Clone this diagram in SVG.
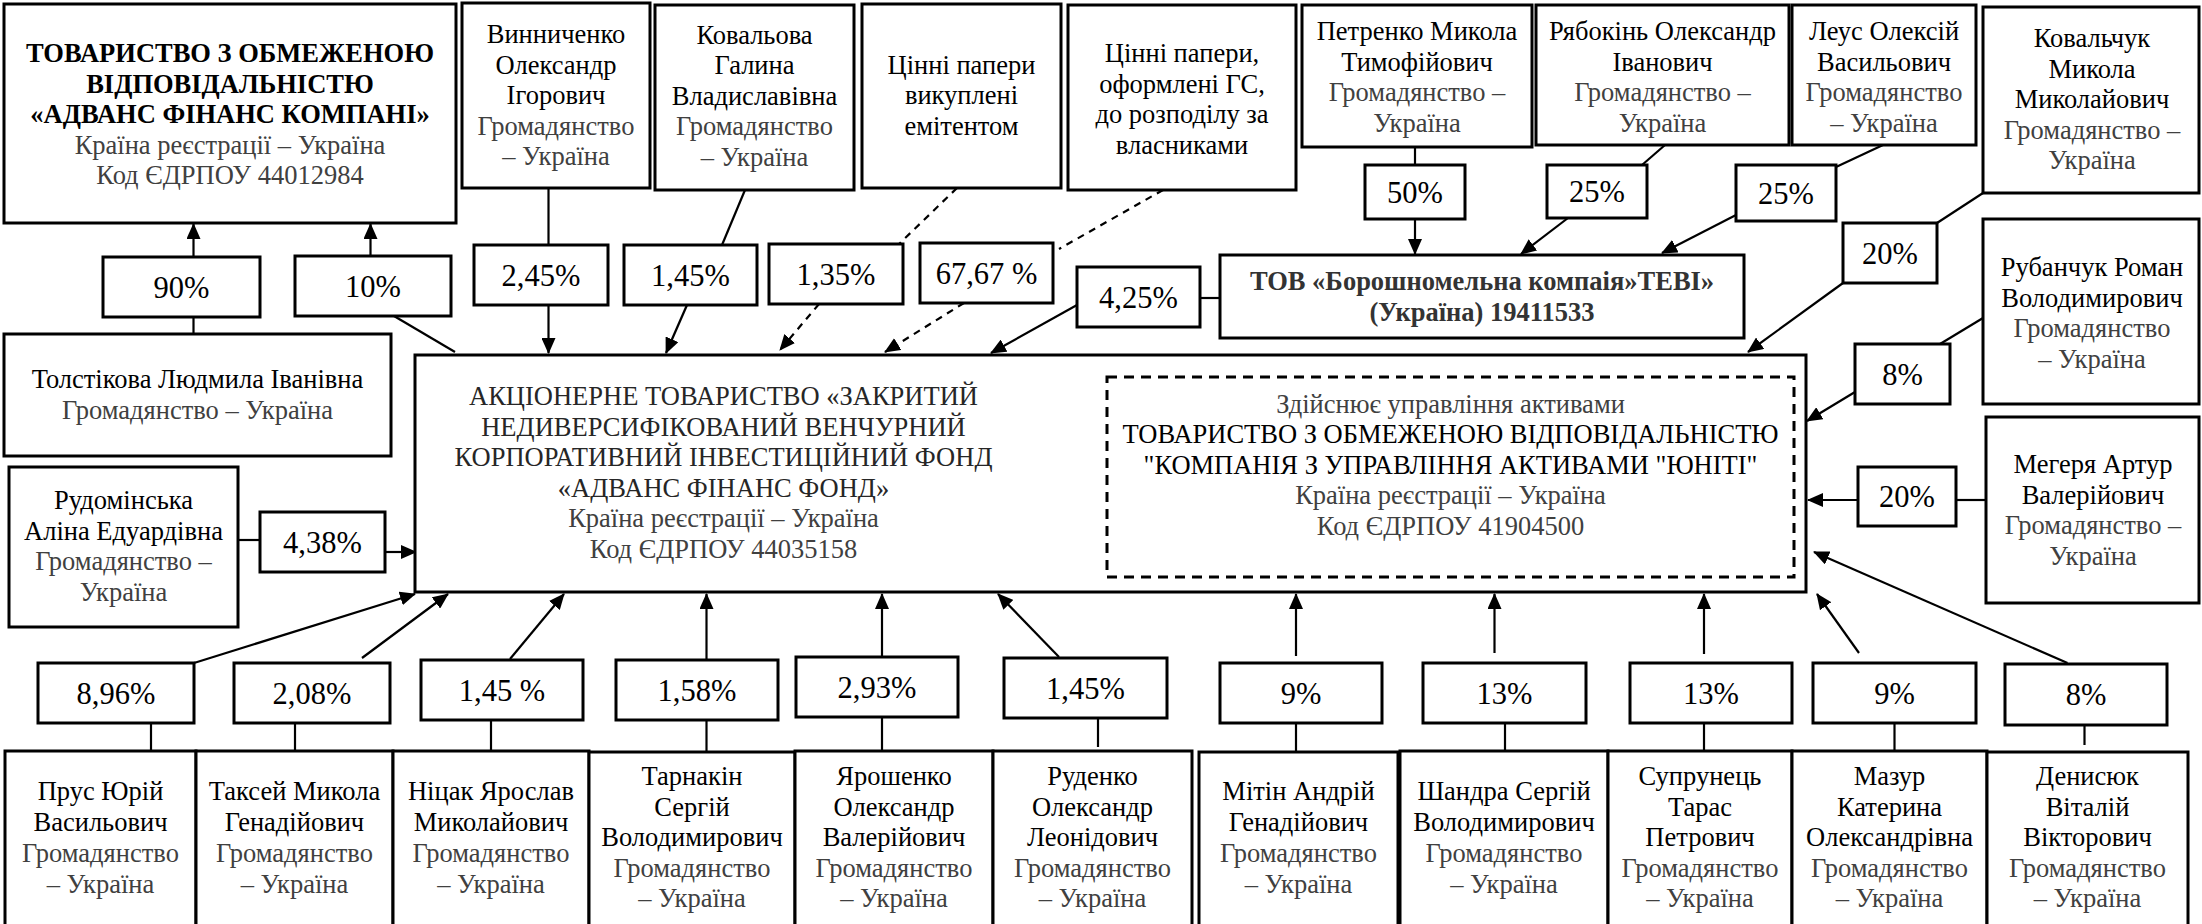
<svg xmlns="http://www.w3.org/2000/svg" width="2202" height="924" viewBox="0 0 2202 924">
<style>
.b{fill:#fff;stroke:#000;stroke-width:3}
.db{fill:none;stroke:#000;stroke-width:3;stroke-dasharray:10 7}
.t{font-family:"Liberation Serif","Times New Roman",serif;font-size:26.5px;text-anchor:middle;fill:#000}
.g{fill:#404040}
.m{fill:#262626}
.bo{font-weight:bold}
.bb{font-weight:bold;fill:#333}
.p{font-family:"Liberation Serif","Times New Roman",serif;font-size:30.5px;text-anchor:middle;fill:#000}
.c{stroke:#000;stroke-width:2.2;fill:none}
.a{marker-end:url(#ah)}
.d{stroke-dasharray:7 6}
</style>
<defs>
<marker id="ah" markerUnits="userSpaceOnUse" markerWidth="16" markerHeight="14" refX="15" refY="7" orient="auto"><path d="M0,0 L16,7 L0,14 z" fill="#000"/></marker>
</defs>
<rect width="2202" height="924" fill="#fff"/>

<g id="connectors">
<path class="c a" d="M193.5,257 V224"/>
<path class="c a" d="M370.5,256 V224"/>
<path class="c" d="M193.5,334 V317"/>
<path class="c" d="M455,352 L394,316"/>
<path class="c" d="M548.5,188 V245"/>
<path class="c a" d="M548.5,305 V353"/>
<path class="c" d="M745,190 L722,245"/>
<path class="c a" d="M687,305 L666,353"/>
<path class="c d" d="M957,188 L899,244"/>
<path class="c d a" d="M819,304 L780,350"/>
<path class="c d" d="M1163,190 L1059,249"/>
<path class="c d a" d="M964,303 L885,352"/>
<path class="c a" d="M1077,305 L991,353"/>
<path class="c" d="M1200,298 H1220"/>
<path class="c" d="M1415,147 V165"/>
<path class="c a" d="M1415,219 V254"/>
<path class="c" d="M1665,145 L1642,165"/>
<path class="c a" d="M1568,218 L1521,254"/>
<path class="c" d="M1883,145 L1836,167"/>
<path class="c a" d="M1736,215 L1662,253"/>
<path class="c" d="M1983,193 L1937,223"/>
<path class="c a" d="M1843,283 L1748,352"/>
<path class="c" d="M1983,318 L1940,344"/>
<path class="c a" d="M1855,392 L1807,421"/>
<path class="c" d="M1986,500 H1956"/>
<path class="c a" d="M1858,500 H1808"/>
<path class="c" d="M238,540 H260"/>
<path class="c a" d="M385,552 H416"/>
<path class="c d a" d="M1107,457 H1038"/>
<path class="c a" d="M194,663 L415,594"/>
<path class="c a" d="M362,658 L448,594"/>
<path class="c a" d="M510,659 L564,594"/>
<path class="c a" d="M706.5,660 V594"/>
<path class="c a" d="M882,657 V594"/>
<path class="c a" d="M1059,657 L998,594"/>
<path class="c a" d="M1296,656 V594"/>
<path class="c a" d="M1494.5,653 V594"/>
<path class="c a" d="M1704,654 V594"/>
<path class="c a" d="M1859,653 L1817,594"/>
<path class="c a" d="M2067.5,663 L1814,552"/>
<path class="c" d="M151,723 V751"/>
<path class="c" d="M295,723 V751"/>
<path class="c" d="M491,720 V751"/>
<path class="c" d="M706.5,720 V752"/>
<path class="c" d="M882,717 V751"/>
<path class="c" d="M1098,718 V747"/>
<path class="c" d="M1296,723 V751"/>
<path class="c" d="M1505,723 V751"/>
<path class="c" d="M1704,723 V756"/>
<path class="c" d="M1894.5,721 V751"/>
<path class="c" d="M2084.5,726 V745"/>
</g>

<g id="n_afk"><rect class="b" x="4" y="4" width="452" height="219"/>
<text class="t"><tspan class="bo" x="230" y="62">ТОВАРИСТВО З ОБМЕЖЕНОЮ</tspan><tspan class="bo" x="230" y="92.5">ВІДПОВІДАЛЬНІСТЮ</tspan><tspan class="bo" x="230" y="123">«АДВАНС ФІНАНС КОМПАНІ»</tspan><tspan class="g" x="230" y="153.5">Країна реєстрації – Україна</tspan><tspan class="g" x="230" y="184">Код ЄДРПОУ 44012984</tspan></text></g>

<g id="n_vynn"><rect class="b" x="462" y="3" width="188" height="185"/>
<text class="t"><tspan x="556" y="43">Винниченко</tspan><tspan x="556" y="73.5">Олександр</tspan><tspan x="556" y="104">Ігорович</tspan><tspan class="g" x="556" y="134.5">Громадянство</tspan><tspan class="g" x="556" y="165">– Україна</tspan></text></g>

<g id="n_koval"><rect class="b" x="655" y="5" width="199" height="185"/>
<text class="t"><tspan x="754.5" y="43.5">Ковальова</tspan><tspan x="754.5" y="74">Галина</tspan><tspan x="754.5" y="104.5">Владиславівна</tspan><tspan class="g" x="754.5" y="135">Громадянство</tspan><tspan class="g" x="754.5" y="165.5">– Україна</tspan></text></g>

<g id="n_cp1"><rect class="b" x="862" y="4" width="199" height="184"/>
<text class="t"><tspan x="961.5" y="73.5">Цінні папери</tspan><tspan x="961.5" y="104">викуплені</tspan><tspan x="961.5" y="134.5">емітентом</tspan></text></g>

<g id="n_cp2"><rect class="b" x="1068" y="5" width="228" height="185"/>
<text class="t"><tspan x="1182" y="62">Цінні папери,</tspan><tspan x="1182" y="92.5">оформлені ГС,</tspan><tspan x="1182" y="123">до розподілу за</tspan><tspan x="1182" y="153.5">власниками</tspan></text></g>

<g id="n_petr"><rect class="b" x="1302" y="5" width="230" height="142"/>
<text class="t"><tspan x="1417" y="40">Петренко Микола</tspan><tspan x="1417" y="70.5">Тимофійович</tspan><tspan class="g" x="1417" y="101">Громадянство –</tspan><tspan class="g" x="1417" y="131.5">Україна</tspan></text></g>

<g id="n_ryab"><rect class="b" x="1536" y="5" width="253" height="140"/>
<text class="t"><tspan x="1662.5" y="40">Рябокінь Олександр</tspan><tspan x="1662.5" y="70.5">Іванович</tspan><tspan class="g" x="1662.5" y="101">Громадянство –</tspan><tspan class="g" x="1662.5" y="131.5">Україна</tspan></text></g>

<g id="n_leus"><rect class="b" x="1792" y="5" width="184" height="140"/>
<text class="t"><tspan x="1884" y="40">Леус Олексій</tspan><tspan x="1884" y="70.5">Васильович</tspan><tspan class="g" x="1884" y="101">Громадянство</tspan><tspan class="g" x="1884" y="131.5">– Україна</tspan></text></g>

<g id="n_kovch"><rect class="b" x="1983" y="7" width="216" height="186"/>
<text class="t"><tspan x="2092" y="47">Ковальчук</tspan><tspan x="2092" y="77.5">Микола</tspan><tspan x="2092" y="108">Миколайович</tspan><tspan class="g" x="2092" y="138.5">Громадянство –</tspan><tspan class="g" x="2092" y="169">Україна</tspan></text></g>

<g id="n_rub"><rect class="b" x="1983" y="219" width="216" height="185"/>
<text class="t"><tspan x="2092" y="276">Рубанчук Роман</tspan><tspan x="2092" y="306.5">Володимирович</tspan><tspan class="g" x="2092" y="337">Громадянство</tspan><tspan class="g" x="2092" y="367.5">– Україна</tspan></text></g>

<g id="n_meg"><rect class="b" x="1986" y="417" width="213" height="186"/>
<text class="t"><tspan x="2093" y="473">Мегеря Артур</tspan><tspan x="2093" y="503.5">Валерійович</tspan><tspan class="g" x="2093" y="534">Громадянство –</tspan><tspan class="g" x="2093" y="564.5">Україна</tspan></text></g>

<g id="n_tol"><rect class="b" x="4" y="334" width="387" height="122"/>
<text class="t"><tspan x="197.5" y="388">Толстікова Людмила Іванівна</tspan><tspan class="g" x="197.5" y="419">Громадянство – Україна</tspan></text></g>

<g id="n_rud"><rect class="b" x="9" y="467" width="229" height="160"/>
<text class="t"><tspan x="123.5" y="509">Рудомінська</tspan><tspan x="123.5" y="539.5">Аліна Едуардівна</tspan><tspan class="g" x="123.5" y="570">Громадянство –</tspan><tspan class="g" x="123.5" y="600.5">Україна</tspan></text></g>

<g id="n_bor"><rect class="b" x="1220" y="255" width="524" height="83"/>
<text class="t"><tspan class="bb" x="1482" y="290">ТОВ «Борошномельна компаія»ТЕВІ»</tspan><tspan class="bb" x="1482" y="321">(Україна) 19411533</tspan></text></g>

<g id="n_main"><rect class="b" x="415" y="355" width="1391" height="237"/>
<text class="t m"><tspan x="723.5" y="405">АКЦІОНЕРНЕ ТОВАРИСТВО «ЗАКРИТИЙ</tspan><tspan x="723.5" y="435.5">НЕДИВЕРСИФІКОВАНИЙ ВЕНЧУРНИЙ</tspan><tspan x="723.5" y="466">КОРПОРАТИВНИЙ ІНВЕСТИЦІЙНИЙ ФОНД</tspan><tspan x="723.5" y="496.5">«АДВАНС ФІНАНС ФОНД»</tspan><tspan class="g" x="723.5" y="527">Країна реєстрації – Україна</tspan><tspan class="g" x="723.5" y="557.5">Код ЄДРПОУ 44035158</tspan></text></g>

<g id="n_ka"><rect class="db" x="1107" y="377" width="687" height="200"/>
<text class="t"><tspan class="g" x="1450.5" y="413">Здійснює управління активами</tspan><tspan x="1450.5" y="443">ТОВАРИСТВО З ОБМЕЖЕНОЮ ВІДПОВІДАЛЬНІСТЮ</tspan><tspan x="1450.5" y="473.5">"КОМПАНІЯ З УПРАВЛІННЯ АКТИВАМИ "ЮНІТІ"</tspan><tspan class="g" x="1450.5" y="504">Країна реєстрації – Україна</tspan><tspan class="g" x="1450.5" y="534.5">Код ЄДРПОУ 41904500</tspan></text></g>

<g id="pct">
<g id="p90"><rect class="b" x="103" y="257" width="157" height="60"/><text class="p" x="181.5" y="297.5">90%</text></g>
<g id="p10"><rect class="b" x="295" y="256" width="156" height="60"/><text class="p" x="373" y="296.5">10%</text></g>
<g id="p245"><rect class="b" x="474" y="245" width="134" height="60"/><text class="p" x="541" y="285.5">2,45%</text></g>
<g id="p145k"><rect class="b" x="624" y="245" width="133" height="60"/><text class="p" x="690.5" y="285.5">1,45%</text></g>
<g id="p135"><rect class="b" x="769" y="244" width="134" height="60"/><text class="p" x="836" y="284.5">1,35%</text></g>
<g id="p6767"><rect class="b" x="920" y="243" width="133" height="60"/><text class="p" x="986.5" y="283.5">67,67 %</text></g>
<g id="p425"><rect class="b" x="1077" y="267" width="123" height="60"/><text class="p" x="1138.5" y="307.5">4,25%</text></g>
<g id="p50"><rect class="b" x="1365" y="165" width="100" height="54"/><text class="p" x="1415" y="202.5">50%</text></g>
<g id="p25a"><rect class="b" x="1547" y="165" width="100" height="53"/><text class="p" x="1597" y="202">25%</text></g>
<g id="p25b"><rect class="b" x="1736" y="165" width="100" height="56"/><text class="p" x="1786" y="203.5">25%</text></g>
<g id="p20k"><rect class="b" x="1843" y="223" width="94" height="60"/><text class="p" x="1890" y="263.5">20%</text></g>
<g id="p8r"><rect class="b" x="1855" y="344" width="95" height="60"/><text class="p" x="1902.5" y="384.5">8%</text></g>
<g id="p20m"><rect class="b" x="1858" y="467" width="98" height="59"/><text class="p" x="1907" y="507">20%</text></g>
<g id="p438"><rect class="b" x="260" y="512" width="125" height="60"/><text class="p" x="322.5" y="552.5">4,38%</text></g>
<g id="p896"><rect class="b" x="38" y="663" width="156" height="60"/><text class="p" x="116" y="703.5">8,96%</text></g>
<g id="p208"><rect class="b" x="234" y="663" width="156" height="60"/><text class="p" x="312" y="703.5">2,08%</text></g>
<g id="p145n"><rect class="b" x="421" y="660" width="162" height="60"/><text class="p" x="502" y="700.5">1,45 %</text></g>
<g id="p158"><rect class="b" x="616" y="660" width="162" height="60"/><text class="p" x="697" y="700.5">1,58%</text></g>
<g id="p293"><rect class="b" x="796" y="657" width="162" height="60"/><text class="p" x="877" y="697.5">2,93%</text></g>
<g id="p145r"><rect class="b" x="1004" y="658" width="163" height="60"/><text class="p" x="1085.5" y="698.5">1,45%</text></g>
<g id="p9m"><rect class="b" x="1220" y="663" width="162" height="60"/><text class="p" x="1301" y="703.5">9%</text></g>
<g id="p13s"><rect class="b" x="1423" y="663" width="163" height="60"/><text class="p" x="1504.5" y="703.5">13%</text></g>
<g id="p13p"><rect class="b" x="1630" y="663" width="162" height="60"/><text class="p" x="1711" y="703.5">13%</text></g>
<g id="p9z"><rect class="b" x="1813" y="663" width="163" height="60"/><text class="p" x="1894.5" y="703.5">9%</text></g>
<g id="p8d"><rect class="b" x="2005" y="664" width="162" height="61"/><text class="p" x="2086" y="705">8%</text></g>
</g>

<g id="n_prus"><rect class="b" x="5" y="751" width="191" height="185"/>
<text class="t"><tspan x="100.5" y="800">Прус Юрій</tspan><tspan x="100.5" y="830.5">Васильович</tspan><tspan class="g" x="100.5" y="861.5">Громадянство</tspan><tspan class="g" x="100.5" y="892.5">– Україна</tspan></text></g>
<g id="n_taks"><rect class="b" x="196" y="751" width="197" height="185"/>
<text class="t"><tspan x="294.5" y="800">Таксей Микола</tspan><tspan x="294.5" y="830.5">Генадійович</tspan><tspan class="g" x="294.5" y="861.5">Громадянство</tspan><tspan class="g" x="294.5" y="892.5">– Україна</tspan></text></g>
<g id="n_nits"><rect class="b" x="393" y="751" width="196" height="185"/>
<text class="t"><tspan x="491" y="800">Ніцак Ярослав</tspan><tspan x="491" y="830.5">Миколайович</tspan><tspan class="g" x="491" y="861.5">Громадянство</tspan><tspan class="g" x="491" y="892.5">– Україна</tspan></text></g>
<g id="n_tarn"><rect class="b" x="589" y="752" width="206" height="184"/>
<text class="t"><tspan x="692" y="785">Тарнакін</tspan><tspan x="692" y="815.5">Сергій</tspan><tspan x="692" y="846">Володимирович</tspan><tspan class="g" x="692" y="876.5">Громадянство</tspan><tspan class="g" x="692" y="907">– Україна</tspan></text></g>
<g id="n_yar"><rect class="b" x="795" y="751" width="198" height="185"/>
<text class="t"><tspan x="894" y="785">Ярошенко</tspan><tspan x="894" y="815.5">Олександр</tspan><tspan x="894" y="846">Валерійович</tspan><tspan class="g" x="894" y="876.5">Громадянство</tspan><tspan class="g" x="894" y="907">– Україна</tspan></text></g>
<g id="n_rud2"><rect class="b" x="993" y="751" width="199" height="185"/>
<text class="t"><tspan x="1092.5" y="785">Руденко</tspan><tspan x="1092.5" y="815.5">Олександр</tspan><tspan x="1092.5" y="846">Леонідович</tspan><tspan class="g" x="1092.5" y="876.5">Громадянство</tspan><tspan class="g" x="1092.5" y="907">– Україна</tspan></text></g>
<g id="n_mit"><rect class="b" x="1199" y="752" width="199" height="184"/>
<text class="t"><tspan x="1298.5" y="800">Мітін Андрій</tspan><tspan x="1298.5" y="830.5">Генадійович</tspan><tspan class="g" x="1298.5" y="862">Громадянство</tspan><tspan class="g" x="1298.5" y="893">– Україна</tspan></text></g>
<g id="n_shan"><rect class="b" x="1400" y="751" width="208" height="185"/>
<text class="t"><tspan x="1504" y="800">Шандра Сергій</tspan><tspan x="1504" y="830.5">Володимирович</tspan><tspan class="g" x="1504" y="861.5">Громадянство</tspan><tspan class="g" x="1504" y="892.5">– Україна</tspan></text></g>
<g id="n_supr"><rect class="b" x="1608" y="751" width="184" height="185"/>
<text class="t"><tspan x="1700" y="785">Супрунець</tspan><tspan x="1700" y="815.5">Тарас</tspan><tspan x="1700" y="846">Петрович</tspan><tspan class="g" x="1700" y="876.5">Громадянство</tspan><tspan class="g" x="1700" y="907">– Україна</tspan></text></g>
<g id="n_maz"><rect class="b" x="1792" y="751" width="195" height="185"/>
<text class="t"><tspan x="1889.5" y="785">Мазур</tspan><tspan x="1889.5" y="815.5">Катерина</tspan><tspan x="1889.5" y="846">Олександрівна</tspan><tspan class="g" x="1889.5" y="876.5">Громадянство</tspan><tspan class="g" x="1889.5" y="907">– Україна</tspan></text></g>
<g id="n_den"><rect class="b" x="1987" y="752" width="201" height="184"/>
<text class="t"><tspan x="2087.5" y="785">Денисюк</tspan><tspan x="2087.5" y="815.5">Віталій</tspan><tspan x="2087.5" y="846">Вікторович</tspan><tspan class="g" x="2087.5" y="876.5">Громадянство</tspan><tspan class="g" x="2087.5" y="907">– Україна</tspan></text></g>
</svg>
